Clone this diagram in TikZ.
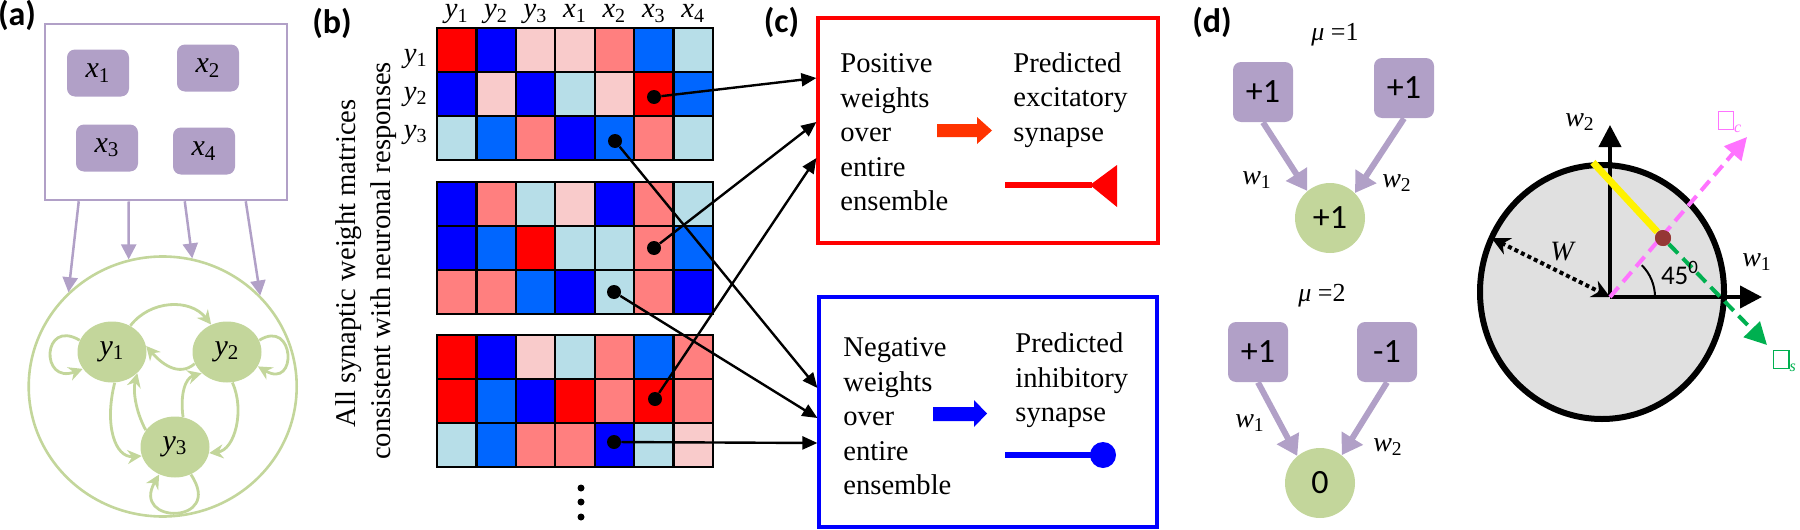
\documentclass[tikz,border=0pt]{standalone}
\usepackage{fontspec}
\setmainfont{Liberation Serif}
\newfontfamily\calib{Carlito}
\usetikzlibrary{arrows.meta,shapes.geometric}
\definecolor{purp}{HTML}{B1A0C7}
\definecolor{grn}{HTML}{C3D69B}
\definecolor{cR}{HTML}{FF0000}
\definecolor{cB}{HTML}{0000FF}
\definecolor{cP}{HTML}{F9CBCB}
\definecolor{cS}{HTML}{FF7F7F}
\definecolor{cM}{HTML}{0066FF}
\definecolor{cL}{HTML}{B7DEE8}
\definecolor{arrR}{HTML}{FF3300}
\definecolor{pinkc}{HTML}{FF73FF}
\definecolor{grnd}{HTML}{00B050}
\definecolor{brownd}{HTML}{953735}
\definecolor{diskg}{HTML}{E0E0E0}
\newcommand{\vs}[2]{\textit{#1}\textsubscript{#2}}
\newcommand{\fsz}[2]{\fontsize{#1pt}{#2pt}\selectfont}
\newcommand{\gbox}{{\setlength{\fboxsep}{0pt}\setlength{\fboxrule}{0.6pt}\fbox{\rule{0pt}{8.4pt}\hspace{7pt}}}}
\newcommand{\mrow}[3]{\foreach \c [count=\j from 0] in {#3} {\draw[cell,fill=\c] ({437+\j*39.43},{#1+#2*44}) rectangle ++(39.43,44);}}
\begin{document}
\begin{tikzpicture}[x=0.5pt,y=-0.5pt,font=\fsz{14.3}{17.2},
  cell/.style={draw=black,line width=1.1pt},
  xnode/.style={rounded corners=4pt,fill=purp,minimum width=31pt,minimum height=23.5pt,inner sep=0pt,font=\fsz{15}{18}},
  ynode/.style={ellipse,fill=grn,minimum width=34.5pt,minimum height=30.5pt,inner sep=0pt,font=\fsz{15}{18}},
  parr/.style={draw=purp,line width=1.25pt,-{Triangle[length=7.5pt,width=7.5pt]}},
  garr/.style={draw=grn,line width=1.4pt,-{Stealth[length=7pt,width=7pt]}},
  dotn/.style={circle,fill=black,minimum size=7pt,inner sep=0pt},
  karr/.style={draw=black,line width=1.2pt,-{Triangle[length=7.5pt,width=6.5pt]}},
  plab/.style={font=\calib\bfseries\fsz{17}{20},inner sep=0pt},
  hlab/.style={inner sep=0pt},
  dbox/.style={rounded corners=4pt,fill=purp,minimum size=30pt,inner sep=0pt,font=\calib\fsz{17}{20}},
  dcirc/.style={circle,fill=grn,minimum size=35pt,inner sep=0pt,font=\calib\fsz{17}{20}},
  darr/.style={draw=purp,line width=3pt,-{Triangle[length=10pt,width=12pt]}},
  axarr/.style={draw=black,line width=2pt,-{Triangle[length=11pt,width=11pt]}},
  txt/.style={anchor=north west,inner sep=0pt,align=left}]
\useasboundingbox (0,0) rectangle (1800,530);

% ---------------- (a)
\node[plab] (la) at (17,15) {(a)};
\node[draw=purp,line width=1.25pt,minimum width=121pt,minimum height=88pt,inner sep=0pt] (inbox) at (166,112) {};
\node[xnode] (x1) at (98,73) {\vs{x}{1}};
\node[xnode] (x2) at (208,68) {\vs{x}{2}};
\node[xnode] (x3) at (107,148) {\vs{x}{3}};
\node[xnode] (x4) at (204,151) {\vs{x}{4}};
\node[draw=grn,line width=1.3pt,ellipse,minimum width=134pt,minimum height=130pt,inner sep=0pt] (net) at (162.7,386.5) {};
\node[ynode] (y1) at (112,352) {\vs{y}{1}};
\node[ynode] (y2) at (227,352) {\vs{y}{2}};
\node[ynode] (y3) at (175,447) {\vs{y}{3}};
\draw[parr] ([xshift=17.5pt]inbox.south west) -- (net.135);
\draw[parr] ([xshift=42.5pt]inbox.south west) -- (net.105);
\draw[parr] ([xshift=70.5pt]inbox.south west) -- (net.77);
\draw[parr] ([xshift=101pt]inbox.south west) -- (net.43);
\draw[garr] (y1.55) .. controls (150,300) and (190,298) .. (y2.120);
\draw[garr] (y2.200) .. controls (178,378) and (160,362) .. (y1.10);
\draw[garr] (y1.160) .. controls (42,318) and (40,385) .. (y1.210);
\draw[garr] (y2.20) .. controls (295,318) and (298,390) .. (y2.335);
\draw[garr] (y3.300) .. controls (225,525) and (130,525) .. (y3.240);
\draw[garr] (y1.275) .. controls (104,425) and (115,458) .. (y3.195);
\draw[garr] (y3.150) .. controls (135,410) and (133,390) .. (y1.320);
\draw[garr] (y3.75) .. controls (180,395) and (185,378) .. (y2.220);
\draw[garr] (y2.280) .. controls (245,410) and (235,450) .. (y3.350);

% ---------------- (b)
\node[plab] (lb) at (332,23.5) {(b)};
\node[rotate=90,anchor=base,inner sep=0pt] (rt1) at (355,263.5) {All synaptic weight matrices};
\node[rotate=90,anchor=base,inner sep=0pt] (rt2) at (390,261) {consistent with neuronal responses};
\node[hlab,anchor=base] (h1) at (456.7,18) {\vs{y}{1}};
\node[hlab,anchor=base] (h2) at (496.1,18) {\vs{y}{2}};
\node[hlab,anchor=base] (h3) at (535.6,18) {\vs{y}{3}};
\node[hlab,anchor=base] (h4) at (575.0,18) {\vs{x}{1}};
\node[hlab,anchor=base] (h5) at (614.4,18) {\vs{x}{2}};
\node[hlab,anchor=base] (h6) at (653.9,18) {\vs{x}{3}};
\node[hlab,anchor=base] (h7) at (693.3,18) {\vs{x}{4}};
\node[hlab,anchor=base east] (r1) at (428,62) {\vs{y}{1}};
\node[hlab,anchor=base east] (r2) at (428,100) {\vs{y}{2}};
\node[hlab,anchor=base east] (r3) at (428,138) {\vs{y}{3}};
\mrow{28}{0}{cR,cB,cP,cP,cS,cM,cL}
\mrow{28}{1}{cB,cP,cB,cL,cP,cR,cM}
\mrow{28}{2}{cL,cM,cS,cB,cM,cS,cL}
\mrow{182}{0}{cB,cS,cL,cP,cB,cS,cL}
\mrow{182}{1}{cB,cM,cR,cL,cL,cS,cM}
\mrow{182}{2}{cS,cS,cM,cB,cL,cS,cB}
\mrow{335}{0}{cR,cB,cP,cL,cS,cM,cS}
\mrow{335}{1}{cR,cM,cB,cR,cS,cR,cS}
\mrow{335}{2}{cL,cM,cS,cS,cB,cL,cP}
\node[dotn] (d1) at (654,97) {};
\node[dotn] (d2) at (615,141) {};
\node[dotn] (d3) at (654,248) {};
\node[dotn] (d4) at (614,292) {};
\node[dotn] (d5) at (655,399) {};
\node[dotn] (d6) at (614,442) {};
\fill (581,488) circle[radius=3.5];
\fill (581,502) circle[radius=3.5];
\fill (581,517) circle[radius=3.5];

% ---------------- (c)
\node[plab] (lc) at (781.5,22.5) {(c)};
\node[draw=red,line width=1.6pt,minimum width=170pt,minimum height=112.5pt,inner sep=0pt] (exc) at (988,130.5) {};
\node[draw=blue,line width=1.6pt,minimum width=169pt,minimum height=115pt,inner sep=0pt] (inh) at (988,412) {};
\node[txt] (pt) at (840,53.5) {Positive\\weights\\over\\entire\\ensemble};
\node[txt] (pe) at (1013,52) {Predicted\\excitatory\\synapse};
\node[txt] (nt) at (843,337.5) {Negative\\weights\\over\\entire\\ensemble};
\node[txt] (pi) at (1015,332.5) {Predicted\\inhibitory\\synapse};
\draw[karr] (d1) -- ([yshift=26.25pt]exc.west);
\draw[karr] (d3) -- ([yshift=4.25pt]exc.west);
\draw[karr] (d5) -- ([yshift=-13.75pt]exc.west);
\draw[karr] (d2) -- ([yshift=12pt]inh.west);
\draw[karr] (d4) -- ([yshift=-3pt]inh.west);
\draw[karr] (d6) -- ([yshift=-15.5pt]inh.west);
\fill[arrR] (937,124) -- (977,124) -- (977,117) -- (992,130.5) -- (977,144) -- (977,137) -- (937,137) -- cycle;
\fill[blue] (933,407) -- (974,407) -- (974,400) -- (987,413.5) -- (974,427) -- (974,421) -- (933,421) -- cycle;
\draw[red,line width=3pt] (1005,185) -- (1092,185);
\fill[red] (1090,185) -- (1117,165) -- (1117,207) -- cycle;
\draw[blue,line width=3pt] (1005,455) -- (1095,455);
\fill[blue] (1103,455) circle[radius=13];

% ---------------- (d) left
\node[plab] (ld) at (1212,22.5) {(d)};
\node[font=\fsz{13}{15}] (mu1) at (1335,35) {\textit{μ} =1};
\node[dbox] (b1) at (1263,92) {+1};
\node[dbox] (b2) at (1404,88) {+1};
\node[dcirc] (c1) at (1330,218) {+1};
\draw[darr] (b1.south) -- (c1.130);
\draw[darr] (b2.south) -- (c1.45);
\node[font=\fsz{14}{16}] (w1a) at (1257,180) {\vs{w}{1}};
\node[font=\fsz{14}{16}] (w2a) at (1397,183) {\vs{w}{2}};
\node[font=\fsz{13}{15}] (mu2) at (1322,296) {\textit{μ} =2};
\node[dbox] (b3) at (1258,352) {+1};
\node[dbox] (b4) at (1387,352) {-1};
\node[dcirc] (c2) at (1320,483) {0};
\draw[darr] (b3.south) -- (c2.130);
\draw[darr] (b4.south) -- (c2.52);
\node[font=\fsz{14}{16}] (w1b) at (1250,423) {\vs{w}{1}};
\node[font=\fsz{14}{16}] (w2b) at (1388,447) {\vs{w}{2}};

% ---------------- (d) right
\node[ellipse,draw=black,fill=diskg,line width=3pt,minimum width=122pt,minimum height=127pt,inner sep=0pt] (disk) at (1602,292) {};
\coordinate (O) at (1610,297);
\coordinate (W1e) at (1762,297);
\coordinate (W2e) at (1610,125);
\coordinate (Pe) at (1747,137);
\coordinate (Se) at (1767,345);
\draw[axarr] (O) -- (W1e);
\draw[axarr] (O) -- (W2e);
\draw[line width=1pt] (1655,297) .. controls (1655,285.1) and (1650.2,273.6) .. (1641.8,265.2);
\draw[line width=2pt,dash pattern=on 2pt off 1.6pt,{Stealth[length=9pt,width=9pt]}-{Stealth[length=9pt,width=9pt]},shorten <=1.6pt] (disk.154) -- (O);
\node[brownd,circle,fill=brownd,minimum size=8pt,inner sep=0pt] (bd) at (1663,238) {};
\draw[yellow,line width=3.5pt] (disk.94) -- (bd);
\draw[pinkc,line width=2pt,dash pattern=on 6.5pt off 3.5pt,-{Triangle[length=11pt,width=11pt]}] (O) -- (Pe);
\draw[grnd,line width=2pt,dash pattern=on 6.5pt off 3.5pt,-{Triangle[length=11pt,width=11pt]}] (bd) -- (Se);
\node[brownd,circle,fill=brownd,minimum size=8pt,inner sep=0pt] at (bd) {};
\node[font=\fsz{14}{16}] (Wl) at (1563,252) {\textit{W}};
\node[font=\fsz{14}{16}] (w2c) at (1580,122) {\vs{w}{2}};
\node[font=\fsz{14}{16}] (w1c) at (1757,262) {\vs{w}{1}};
\node[font=\calib\fsz{13.5}{16}] (ang) at (1680,273) {45\textsuperscript{0}};
\node[pinkc,font=\fsz{12}{14}] (lc2) at (1730,122) {\gbox\textsubscript{\textit{c}}};
\node[grnd,font=\fsz{12}{14},inner sep=0pt] (ls2) at (1785,361) {\gbox\textsubscript{\textit{s}}};
\end{tikzpicture}
\end{document}
